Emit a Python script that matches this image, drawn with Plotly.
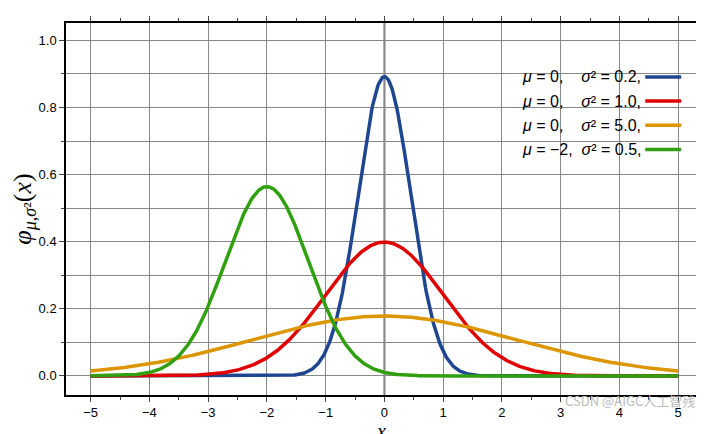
import numpy as np
import plotly.graph_objects as go

mus = [0, 0, 0, -2]
sigma2s = [0.2, 1.0, 5.0, 0.5]
colors = ["#1f4691", "#e00000", "#dc9600", "#30a010"]
labels = ["<i>μ</i> = 0,    <i>σ</i>² = 0.2,", "<i>μ</i> = 0,    <i>σ</i>² = 1.0,",
          "<i>μ</i> = 0,    <i>σ</i>² = 5.0,", "<i>μ</i> = −2,  <i>σ</i>² = 0.5,"]
xticks = [-5, -4, -3, -2, -1, 0, 1, 2, 3, 4, 5]
yticks = [0.0, 0.2, 0.4, 0.6, 0.8, 1.0]

x = np.linspace(-5, 5, 801)
fig = go.Figure()
for mu, s2, c in zip(mus, sigma2s, colors):
    y = np.exp(-(x - mu) ** 2 / (2 * s2)) / np.sqrt(2 * np.pi * s2)
    fig.add_trace(go.Scatter(x=x, y=y, mode="lines", line=dict(color=c, width=3.5), showlegend=False))

fig.add_vline(x=0, line=dict(color="#777", width=2), layer="below")

for i, (lab, c) in enumerate(zip(labels, colors)):
    yy = 0.855 - i * 0.065
    fig.add_annotation(xref="paper", yref="paper", x=0.915, y=yy, text=lab, showarrow=False,
                       xanchor="right", yanchor="middle",
                       font=dict(size=16, color="black", family="Liberation Sans"))
    fig.add_shape(type="line", xref="paper", yref="paper", x0=0.918, x1=0.975, y0=yy, y1=yy,
                  line=dict(color=c, width=3.5))

fig.update_layout(
    width=704, height=434, margin=dict(l=58, r=12, t=8, b=30),
    plot_bgcolor="white", paper_bgcolor="white",
    font=dict(family="Liberation Sans", size=13, color="black"),
    xaxis=dict(range=[-5.42, 5.32], tickvals=xticks, ticktext=[str(t).replace("-", "−") for t in xticks],
               showgrid=True, gridcolor="#888", gridwidth=1, zeroline=False,
               showline=True, linecolor="black", linewidth=1.5, mirror="ticks",
               ticks="outside", ticklen=5, minor=dict(dtick=0.5, ticks="outside", ticklen=3, showgrid=False),
               title=dict(text="<i>x</i>", font=dict(size=20, family="Liberation Serif"), standoff=0)),
    yaxis=dict(range=[-0.057, 1.052], tickvals=yticks, ticktext=[f"{t:.1f}" for t in yticks],
               showgrid=True, gridcolor="#888", gridwidth=1, zeroline=False,
               showline=True, linecolor="black", linewidth=1.5, mirror="ticks",
               ticks="outside", ticklen=5,
               minor=dict(dtick=0.1, ticks="outside", ticklen=3, showgrid=True, gridcolor="#888"),
               title=dict(text="<i>φ</i><sub><i>μ</i>,<i>σ</i>²</sub>(<i>x</i>)",
                          font=dict(size=26, family="Liberation Serif"), standoff=4)),
)
fig.add_annotation(xref="paper", yref="paper", x=1.0, y=-0.045, text="CSDN @AIGC人工智残", showarrow=False,
                   xanchor="right", font=dict(size=13, color="#bbb", family="Noto Sans CJK SC"))
fig.write_html("out.html")
